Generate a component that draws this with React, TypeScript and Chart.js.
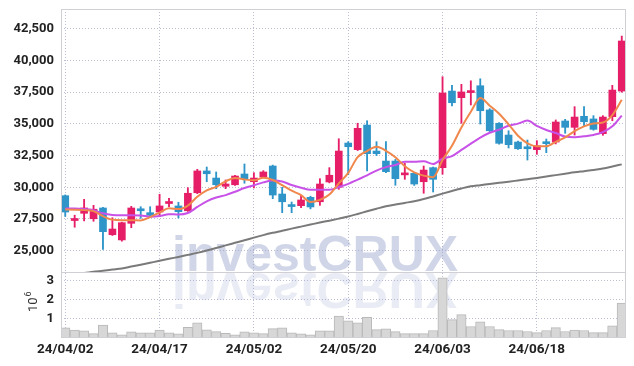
import { useEffect, useRef } from 'react';
import { Chart, registerables } from 'chart.js';

Chart.register(...registerables);

const dates = [
  '24/04/02', '24/04/03', '24/04/04', '24/04/05', '24/04/08', '24/04/09', '24/04/11', '24/04/12', '24/04/15', '24/04/16',
  '24/04/17', '24/04/18', '24/04/19', '24/04/22', '24/04/23', '24/04/24', '24/04/25', '24/04/26', '24/04/29', '24/04/30',
  '24/05/02', '24/05/03', '24/05/07', '24/05/08', '24/05/09', '24/05/10', '24/05/13', '24/05/14', '24/05/16', '24/05/17',
  '24/05/20', '24/05/21', '24/05/22', '24/05/23', '24/05/24', '24/05/27', '24/05/28', '24/05/29', '24/05/30', '24/05/31',
  '24/06/03', '24/06/04', '24/06/05', '24/06/07', '24/06/10', '24/06/11', '24/06/12', '24/06/13', '24/06/14', '24/06/17',
  '24/06/18', '24/06/19', '24/06/20', '24/06/21', '24/06/24', '24/06/25', '24/06/26', '24/06/27', '24/06/28', '24/07/01',
];

const opens = [
  29340, 27380, 27950, 27520, 28370, 26260, 25850, 27160, 28220, 28000,
  28050, 28720, 28530, 28150, 29570, 31290, 30730, 30080, 30200, 31050,
  30440, 30810, 31680, 29470, 28540, 28550, 29210, 28860, 30420, 30000,
  33490, 32970, 34910, 32860, 32070, 32070, 30980, 31100, 30440, 31550,
  31550, 37590, 37070, 37470, 38010, 36100, 35050, 34120, 33570, 33110,
  32970, 33570, 33570, 35230, 34730, 35600, 35390, 34230, 35570, 37590,
];
const highs = [
  29400, 27800, 29050, 28580, 28420, 27600, 27250, 28500, 28470, 28470,
  29450, 29130, 28820, 29970, 31420, 31600, 31210, 30580, 30950, 31840,
  31150, 31310, 31750, 30000, 28840, 29370, 29300, 30680, 31550, 33830,
  33600, 35050, 35250, 33600, 33600, 32200, 31890, 31150, 31680, 31600,
  38720, 38040, 38120, 38400, 38560, 36200, 35100, 34460, 33650, 33730,
  33680, 33810, 35310, 35360, 36360, 36360, 35650, 35650, 38040, 41930,
];
const lows = [
  27700, 26850, 27350, 27320, 25110, 26200, 25750, 26810, 27550, 27680,
  27680, 28470, 27580, 28100, 29500, 30440, 29890, 29890, 30150, 30320,
  29950, 30750, 29100, 28000, 28000, 28390, 28300, 28580, 30350, 29840,
  31000, 32900, 31290, 32500, 31150, 30160, 30630, 30150, 29530, 29630,
  31030, 36410, 35050, 36490, 34990, 34400, 33400, 33100, 32980, 32150,
  32600, 32730, 33420, 34260, 34120, 34780, 34500, 34100, 35250, 37500,
];
const closes = [
  28050, 27420, 28370, 28270, 26500, 26710, 27210, 28370, 28150, 27790,
  28530, 28850, 28080, 29530, 31290, 31070, 30200, 30260, 30890, 30680,
  30730, 31210, 29390, 28860, 28480, 29000, 28450, 30260, 30950, 32860,
  33200, 34650, 32650, 32650, 31230, 30680, 31070, 30260, 31360, 30630,
  37440, 36670, 37520, 37530, 36040, 34460, 33470, 33360, 33040, 33040,
  33280, 33440, 35150, 34730, 35540, 35170, 34570, 35540, 37670, 41540,
];
const volumes = [
  530000, 420000, 370000, 230000, 680000, 270000, 170000, 320000, 270000, 270000,
  420000, 270000, 220000, 560000, 790000, 430000, 330000, 250000, 170000, 320000,
  270000, 230000, 490000, 530000, 270000, 220000, 170000, 380000, 380000, 1140000,
  900000, 790000, 1080000, 440000, 480000, 330000, 230000, 230000, 230000, 390000,
  3150000, 960000, 1220000, 600000, 850000, 600000, 440000, 390000, 390000, 340000,
  280000, 390000, 540000, 340000, 420000, 390000, 280000, 280000, 630000, 1820000,
];
const ma5 = [
  28250, 28230, 28200, 28120, 27720, 27450, 27410, 27410, 27390, 27650,
  28010, 28340, 28280, 28560, 29260, 29760, 30030, 30470, 30740, 30620,
  30550, 30750, 30580, 30170, 29730, 29390, 28840, 29010, 29430, 30300,
  31140, 32380, 32860, 33200, 32880, 32370, 31660, 31180, 30920, 30800,
  32150, 33270, 34720, 35960, 37040, 36440, 35800, 34970, 34070, 33470,
  33240, 33230, 33590, 33930, 34430, 34810, 35030, 35110, 35700, 36900,
];
const ma10 = [
  28320, 28320, 28290, 28190, 27950, 27820, 27790, 27790, 27780, 27680,
  27730, 27880, 27850, 27970, 28450, 28890, 29190, 29380, 29650, 29940,
  30160, 30390, 30530, 30460, 30180, 29970, 29800, 29800, 29800, 30020,
  30270, 30610, 30940, 31320, 31590, 31760, 32020, 32020, 32060, 31840,
  32260, 32460, 32950, 33440, 33920, 34300, 34540, 34850, 35020, 35260,
  34840, 34520, 34280, 34000, 33950, 34020, 34130, 34350, 34810, 35660,
];
const ma60 = [
  23070, 23160, 23240, 23340, 23420, 23510, 23600, 23750, 23900, 24050,
  24200, 24360, 24510, 24670, 24830, 25010, 25210, 25420, 25620, 25820,
  26030, 26230, 26410, 26570, 26740, 26900, 27060, 27220, 27370, 27530,
  27700, 27900, 28110, 28310, 28500, 28640, 28770, 28900, 29070, 29280,
  29500, 29710, 29910, 30080, 30170, 30260, 30350, 30440, 30540, 30640,
  30740, 30850, 30960, 31070, 31180, 31270, 31360, 31480, 31640, 31810,
];
const dateTickIndexes = [0, 10, 20, 30, 40, 50];
const priceTicks = [25000, 27500, 30000, 32500, 35000, 37500, 40000, 42500];
const volumeTicks = [1000000, 2000000, 3000000];

const UP = '#e61e68';
const DOWN = '#2f95c9';
const GRID = 'rgba(180,182,205,0.9)';
const FONT = "Roboto, 'DejaVu Sans Condensed', sans-serif";

const clipPlugin = {
  id: 'panelClip',
  beforeDatasetDraw(chart: any, args: any) {
    const ys = args.meta.yScale;
    const ctx = chart.ctx;
    ctx.save();
    ctx.beginPath();
    ctx.rect(chart.chartArea.left, ys.top, chart.chartArea.right - chart.chartArea.left, ys.bottom - ys.top);
    ctx.clip();
  },
  afterDatasetDraw(chart: any) {
    chart.ctx.restore();
  },
};

const decorPlugin = {
  id: 'decor',
  beforeDatasetsDraw(chart: any) {
    const ctx = chart.ctx;
    const y = chart.scales.y;
    const area = chart.chartArea;
    const base = y.bottom;
    ctx.save();
    ctx.font = "bold 50px 'Liberation Sans', Arial, sans-serif";
    ctx.textBaseline = 'alphabetic';
    ctx.textAlign = 'left';
    ctx.beginPath();
    ctx.rect(area.left, area.top, area.right - area.left, base - area.top);
    ctx.clip();
    ctx.fillStyle = 'rgba(150,162,205,0.45)';
    ctx.fillText('investCRUX', 172, base - 1);
    ctx.restore();
    ctx.save();
    ctx.font = "bold 50px 'Liberation Sans', Arial, sans-serif";
    ctx.beginPath();
    ctx.rect(area.left, base, area.right - area.left, area.bottom - base);
    ctx.clip();
    ctx.translate(0, base * 2);
    ctx.scale(1, -1);
    ctx.fillStyle = 'rgba(150,162,205,0.2)';
    ctx.fillText('investCRUX', 172, base - 1);
    ctx.restore();
  },
  afterDraw(chart: any) {
    const ctx = chart.ctx;
    const a = chart.chartArea;
    const v = chart.scales.v;
    ctx.save();
    ctx.strokeStyle = '#cfcfd4';
    ctx.lineWidth = 1;
    ctx.strokeRect(a.left + 0.5, a.top + 0.5, a.right - a.left - 1, a.bottom - a.top - 1);
    ctx.beginPath();
    ctx.moveTo(a.left, Math.round(v.top) + 0.5);
    ctx.lineTo(a.right, Math.round(v.top) + 0.5);
    ctx.stroke();
    ctx.translate(33, (v.top + v.bottom) / 2 - 3);
    ctx.rotate(-Math.PI / 2);
    ctx.fillStyle = '#333';
    ctx.font = `13px ${FONT}`;
    ctx.textBaseline = 'alphabetic';
    ctx.textAlign = 'left';
    const w = ctx.measureText('10').width;
    ctx.fillText('10', -10, 4);
    ctx.font = `9px ${FONT}`;
    ctx.fillText('6', -10 + w + 1, -2);
    ctx.restore();
  },
};

const noPad = (s: any) => {
  s.paddingTop = 0;
  s.paddingBottom = 0;
  s.paddingLeft = 0;
  s.paddingRight = 0;
};

export default function App() {
  const ref = useRef<HTMLCanvasElement | null>(null);
  useEffect(() => {
    if (!ref.current) return;
    const idx = dates.map((_, i) => i);
    const tickFont = { family: FONT, size: 13, weight: 'bold' as const };
    const chart = new Chart(ref.current, {
      type: 'bar',
      data: {
        datasets: [
          {
            type: 'line', label: 'MA5', data: idx.map((i) => ({ x: i, y: ma5[i] })),
            borderColor: '#f0874c', borderWidth: 2, pointRadius: 0, cubicInterpolationMode: 'monotone', yAxisID: 'y', order: 0,
          } as any,
          {
            type: 'line', label: 'MA10', data: idx.map((i) => ({ x: i, y: ma10[i] })),
            borderColor: '#c852e8', borderWidth: 2, pointRadius: 0, cubicInterpolationMode: 'monotone', yAxisID: 'y', order: 1,
          } as any,
          {
            type: 'line', label: 'MA60', data: idx.map((i) => ({ x: i, y: ma60[i] })),
            borderColor: '#7a7a7a', borderWidth: 2, pointRadius: 0, cubicInterpolationMode: 'monotone', yAxisID: 'y', order: 2,
          } as any,
          {
            label: 'body', data: idx.map((i) => ({ x: i, y: [opens[i], closes[i]] })),
            backgroundColor: idx.map((i) => (closes[i] >= opens[i] ? UP : DOWN)),
            barThickness: 7, minBarLength: 2, grouped: false, yAxisID: 'y', order: 3,
          } as any,
          {
            label: 'wick', data: idx.map((i) => ({ x: i, y: [lows[i], highs[i]] })),
            backgroundColor: idx.map((i) => (closes[i] >= opens[i] ? UP : DOWN)),
            barThickness: 1.2, grouped: false, yAxisID: 'y', order: 4,
          } as any,
          {
            label: 'volume', data: idx.map((i) => ({ x: i, y: volumes[i] })),
            backgroundColor: '#d7d7d7', borderColor: '#b9b9b9',
            borderWidth: { top: 1, left: 1, right: 1, bottom: 0 }, borderSkipped: false,
            barThickness: 9.4, grouped: false, yAxisID: 'v', order: 5,
          } as any,
        ],
      },
      options: {
        animation: false,
        responsive: true,
        maintainAspectRatio: false,
        layout: { padding: { top: 9, right: 8, left: 0, bottom: 0 } },
        plugins: { legend: { display: false }, tooltip: { enabled: false } },
        scales: {
          x: {
            type: 'linear', min: -0.45, max: 59.45, offset: false,
            afterBuildTicks: (s: any) => { s.ticks = dateTickIndexes.map((value) => ({ value })); },
            afterFit: (s: any) => { s.height = 28; noPad(s); },
            ticks: { font: { family: FONT, size: 13.5, weight: 'bold' }, color: '#222', padding: 4, maxRotation: 0, autoSkip: false,
              callback: (v: any) => dates[v] ?? '' },
            grid: { color: GRID, drawTicks: false, offset: false },
            border: { display: false, dash: [1, 2] },
          },
          v: {
            type: 'linear', position: 'left', stack: 'panels', stackWeight: 66, min: 0, max: 3450000,
            afterBuildTicks: (s: any) => { s.ticks = volumeTicks.map((value) => ({ value })); },
            afterFit: (s: any) => { s.width = 61; noPad(s); },
            ticks: { font: tickFont, color: '#222', padding: 7, autoSkip: false,
              callback: (v: any) => String(Math.round(Number(v) / 1000000)) },
            grid: { color: GRID, drawTicks: false },
            border: { display: false, dash: [1, 2] },
          },
          y: {
            type: 'linear', position: 'left', stack: 'panels', stackWeight: 263, min: 23320, max: 44062,
            afterBuildTicks: (s: any) => { s.ticks = priceTicks.map((value) => ({ value })); },
            afterFit: (s: any) => { s.width = 61; noPad(s); },
            ticks: { font: tickFont, color: '#222', padding: 7, autoSkip: false,
              callback: (v: any) => Number(v).toLocaleString('en-US') },
            grid: { color: GRID, drawTicks: false },
            border: { display: false, dash: [1, 2] },
          },
        },
      } as any,
      plugins: [clipPlugin, decorPlugin],
    });
    return () => chart.destroy();
  }, []);
  return (
    <div style={{ position: 'fixed', left: 0, top: 0, width: 634, height: 366, background: '#fff' }}>
      <canvas ref={ref} />
    </div>
  );
}
